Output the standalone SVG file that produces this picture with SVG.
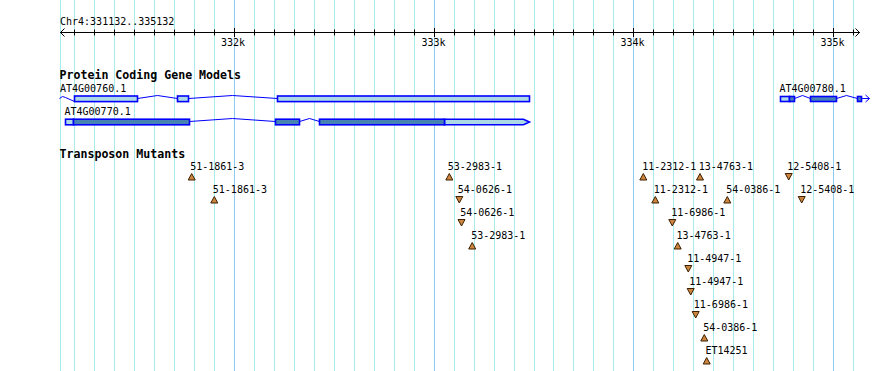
<svg xmlns="http://www.w3.org/2000/svg" width="890" height="371" viewBox="0 0 890 371">
<style>
.grid{stroke:#a6ecec;stroke-width:1}
.major{stroke:#8ccbf0;stroke-width:1}
.axis{stroke:#000;stroke-width:1;fill:none}
.t{font-family:"DejaVu Sans Mono","Liberation Mono",monospace;font-size:10px;fill:#000}
.b{font-family:"DejaVu Sans Mono","Liberation Mono",monospace;font-size:11.6px;font-weight:bold;fill:#000}
.ex{fill:#add8e6;stroke:#0000ff;stroke-width:1.6}
.cds{fill:#4682b4;stroke:#0000ff;stroke-width:1.6}
.intr{fill:none;stroke:#0000ff;stroke-width:1}
.tri{fill:#cd853f;stroke:#3a2000;stroke-width:1}
</style>
<rect x="0" y="0" width="890" height="371" fill="#fff"/>
<g id="grid">
<line class="grid" x1="60.5" y1="0" x2="60.5" y2="371"/>
<line class="grid" x1="74.5" y1="0" x2="74.5" y2="371"/>
<line class="grid" x1="94.5" y1="0" x2="94.5" y2="371"/>
<line class="grid" x1="114.5" y1="0" x2="114.5" y2="371"/>
<line class="grid" x1="134.5" y1="0" x2="134.5" y2="371"/>
<line class="grid" x1="154.5" y1="0" x2="154.5" y2="371"/>
<line class="grid" x1="174.5" y1="0" x2="174.5" y2="371"/>
<line class="grid" x1="194.5" y1="0" x2="194.5" y2="371"/>
<line class="grid" x1="214.5" y1="0" x2="214.5" y2="371"/>
<line class="major" x1="234.5" y1="0" x2="234.5" y2="371"/>
<line class="grid" x1="254.5" y1="0" x2="254.5" y2="371"/>
<line class="grid" x1="274.5" y1="0" x2="274.5" y2="371"/>
<line class="grid" x1="294.5" y1="0" x2="294.5" y2="371"/>
<line class="grid" x1="314.5" y1="0" x2="314.5" y2="371"/>
<line class="grid" x1="334.5" y1="0" x2="334.5" y2="371"/>
<line class="grid" x1="354.5" y1="0" x2="354.5" y2="371"/>
<line class="grid" x1="374.5" y1="0" x2="374.5" y2="371"/>
<line class="grid" x1="394.5" y1="0" x2="394.5" y2="371"/>
<line class="grid" x1="414.5" y1="0" x2="414.5" y2="371"/>
<line class="major" x1="434.5" y1="0" x2="434.5" y2="371"/>
<line class="grid" x1="454.5" y1="0" x2="454.5" y2="371"/>
<line class="grid" x1="474.5" y1="0" x2="474.5" y2="371"/>
<line class="grid" x1="494.5" y1="0" x2="494.5" y2="371"/>
<line class="grid" x1="514.5" y1="0" x2="514.5" y2="371"/>
<line class="grid" x1="534.5" y1="0" x2="534.5" y2="371"/>
<line class="grid" x1="553.5" y1="0" x2="553.5" y2="371"/>
<line class="grid" x1="573.5" y1="0" x2="573.5" y2="371"/>
<line class="grid" x1="593.5" y1="0" x2="593.5" y2="371"/>
<line class="grid" x1="613.5" y1="0" x2="613.5" y2="371"/>
<line class="major" x1="633.5" y1="0" x2="633.5" y2="371"/>
<line class="grid" x1="653.5" y1="0" x2="653.5" y2="371"/>
<line class="grid" x1="673.5" y1="0" x2="673.5" y2="371"/>
<line class="grid" x1="693.5" y1="0" x2="693.5" y2="371"/>
<line class="grid" x1="713.5" y1="0" x2="713.5" y2="371"/>
<line class="grid" x1="733.5" y1="0" x2="733.5" y2="371"/>
<line class="grid" x1="753.5" y1="0" x2="753.5" y2="371"/>
<line class="grid" x1="773.5" y1="0" x2="773.5" y2="371"/>
<line class="grid" x1="793.5" y1="0" x2="793.5" y2="371"/>
<line class="grid" x1="813.5" y1="0" x2="813.5" y2="371"/>
<line class="major" x1="833.5" y1="0" x2="833.5" y2="371"/>
<line class="grid" x1="853.5" y1="0" x2="853.5" y2="371"/>
</g>
<g id="ruler">
<line class="axis" x1="60" y1="32.5" x2="860" y2="32.5"/>
<polyline class="axis" points="64.5,28.5 60.5,32.5 64.5,36.5"/>
<polyline class="axis" points="855.5,28.5 859.5,32.5 855.5,36.5"/>
<path class="axis" d="M74.5,29.5v6M94.5,29.5v6M114.5,29.5v6M134.5,29.5v6M154.5,29.5v6M174.5,29.5v6M194.5,29.5v6M214.5,29.5v6M234.5,28v9M254.5,29.5v6M274.5,29.5v6M294.5,29.5v6M314.5,29.5v6M334.5,29.5v6M354.5,29.5v6M374.5,29.5v6M394.5,29.5v6M414.5,29.5v6M434.5,28v9M454.5,29.5v6M474.5,29.5v6M494.5,29.5v6M514.5,29.5v6M534.5,29.5v6M553.5,29.5v6M573.5,29.5v6M593.5,29.5v6M613.5,29.5v6M633.5,28v9M653.5,29.5v6M673.5,29.5v6M693.5,29.5v6M713.5,29.5v6M733.5,29.5v6M753.5,29.5v6M773.5,29.5v6M793.5,29.5v6M813.5,29.5v6M833.5,28v9M853.5,29.5v6"/>
<text class="t" x="60" y="25">Chr4:331132..335132</text>
<text class="t" x="221" y="45.5">332k</text>
<text class="t" x="421.5" y="45.5">333k</text>
<text class="t" x="620.5" y="45.5">334k</text>
<text class="t" x="820.5" y="45.5">335k</text>
</g>
<g id="track-genes">
<text class="b" x="59.5" y="79">Protein Coding Gene Models</text>
</g>
<g id="AT4G00760.1">
<text class="t" x="60" y="92">AT4G00760.1</text>
<path class="intr" d="M59.5,98.5 L62.5,96.5 L65.5,97.5 L74.5,101.5"/>
<path class="intr" d="M137.5,98.5 L157.5,95.5 L177.5,98.5"/>
<path class="intr" d="M188.5,98.5 L232.5,95.5 L277.5,98.5"/>
<rect class="ex" x="74.5" y="96" width="63" height="5.6"/>
<rect class="ex" x="177.5" y="96" width="11" height="5.6"/>
<rect class="ex" x="277.5" y="96" width="252" height="5.6"/>
</g>
<g id="AT4G00770.1">
<text class="t" x="64.5" y="115">AT4G00770.1</text>
<path class="intr" d="M189.5,121.5 L232.5,118.5 L275.5,121.5"/>
<path class="intr" d="M299.5,121.5 L309.5,118.5 L319.5,121.5"/>
<rect class="ex" x="65.5" y="119.2" width="8" height="5.6"/>
<rect class="cds" x="73.5" y="119.2" width="116" height="5.6"/>
<rect class="cds" x="275.5" y="119.2" width="24" height="5.6"/>
<polygon class="ex" points="444.5,119.2 523.5,119.2 529.5,122 523.5,124.8 444.5,124.8"/>
<rect class="cds" x="319.5" y="119.2" width="125" height="5.6"/>
</g>
<g id="AT4G00780.1">
<text class="t" x="779.5" y="91.7">AT4G00780.1</text>
<path class="intr" d="M794.5,98.5 L802.5,95.5 L810.5,98.5"/>
<path class="intr" d="M836.5,98.5 L846.5,95.5 L857.5,98.5"/>
<path class="intr" d="M861.5,98.5 H869.5 M865.5,95 L869.5,98.5 L865.5,102"/>
<rect class="ex" x="780.5" y="96.5" width="9" height="5"/>
<rect class="cds" x="789.5" y="96.5" width="5" height="5"/>
<rect class="cds" x="810.5" y="96.5" width="26" height="5"/>
<rect class="cds" x="857.5" y="96.5" width="4" height="5"/>
</g>
<g id="track-mutants">
<text class="b" x="59.5" y="158">Transposon Mutants</text>
</g>
<g id="connectors"></g>
<g id="m-51-1861-3-a"><text class="t" x="190.2" y="170">51-1861-3</text><polygon class="tri" points="188.2,180 191.7,173.5 195.2,180"/></g>
<g id="m-53-2983-1-a"><text class="t" x="447.8" y="170">53-2983-1</text><polygon class="tri" points="445.8,180 449.3,173.5 452.8,180"/></g>
<g id="m-11-2312-1-a"><text class="t" x="642.2" y="170">11-2312-1</text><polygon class="tri" points="639.8,180 643.3,173.5 646.8,180"/></g>
<g id="m-13-4763-1-a"><text class="t" x="698.8" y="170">13-4763-1</text><polygon class="tri" points="696.5,180 700,173.5 703.5,180"/></g>
<g id="m-12-5408-1-a"><text class="t" x="787.2" y="170">12-5408-1</text><polygon class="tri" points="785.2,173.5 792.2,173.5 788.7,180"/></g>
<g id="m-51-1861-3-b"><text class="t" x="212.8" y="193">51-1861-3</text><polygon class="tri" points="210.8,203 214.3,196.5 217.8,203"/></g>
<g id="m-54-0626-1-a"><text class="t" x="457.8" y="193">54-0626-1</text><polygon class="tri" points="455.8,196.5 462.8,196.5 459.3,203"/></g>
<g id="m-11-2312-1-b"><text class="t" x="653.8" y="193">11-2312-1</text><polygon class="tri" points="651.8,203 655.3,196.5 658.8,203"/></g>
<g id="m-54-0386-1-a"><text class="t" x="726.2" y="193">54-0386-1</text><polygon class="tri" points="723.8,203 727.3,196.5 730.8,203"/></g>
<g id="m-12-5408-1-b"><text class="t" x="800.2" y="193">12-5408-1</text><polygon class="tri" points="798.2,196.5 805.2,196.5 801.7,203"/></g>
<g id="m-54-0626-1-b"><text class="t" x="460.2" y="216">54-0626-1</text><polygon class="tri" points="458,219.5 465,219.5 461.5,226"/></g>
<g id="m-11-6986-1-a"><text class="t" x="671.2" y="216">11-6986-1</text><polygon class="tri" points="668.8,219.5 675.8,219.5 672.3,226"/></g>
<g id="m-53-2983-1-b"><text class="t" x="471.2" y="239">53-2983-1</text><polygon class="tri" points="468.7,249 472.2,242.5 475.7,249"/></g>
<g id="m-13-4763-1-b"><text class="t" x="676.5" y="239">13-4763-1</text><polygon class="tri" points="674.2,249 677.7,242.5 681.2,249"/></g>
<g id="m-11-4947-1-a"><text class="t" x="687.2" y="262">11-4947-1</text><polygon class="tri" points="684.8,265.5 691.8,265.5 688.3,272"/></g>
<g id="m-11-4947-1-b"><text class="t" x="689.2" y="285">11-4947-1</text><polygon class="tri" points="687.2,288.5 694.2,288.5 690.7,295"/></g>
<g id="m-11-6986-1-b"><text class="t" x="693.8" y="308">11-6986-1</text><polygon class="tri" points="692.2,311.5 699.2,311.5 695.7,318"/></g>
<g id="m-54-0386-1-b"><text class="t" x="703.2" y="331">54-0386-1</text><polygon class="tri" points="700.8,341 704.3,334.5 707.8,341"/></g>
<g id="m-ET14251"><text class="t" x="705.5" y="354">ET14251</text><polygon class="tri" points="703.2,364 706.7,357.5 710.2,364"/></g>
</svg>
